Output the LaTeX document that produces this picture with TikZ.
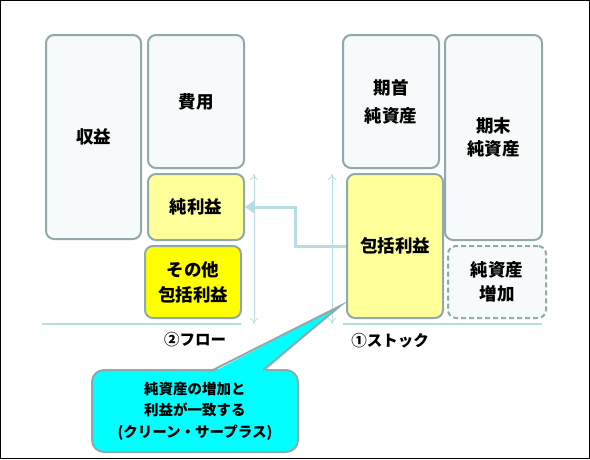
\documentclass[tikz,border=0pt]{standalone}
\usepackage{fontspec}
\newfontfamily\jp{Noto Sans CJK JP}
\usetikzlibrary{arrows.meta}
\definecolor{bd}{HTML}{8FA9AD}
\definecolor{bx}{HTML}{F7FAFB}
\definecolor{ly}{HTML}{FFFF99}
\definecolor{yy}{HTML}{FFFF00}
\definecolor{ln}{HTML}{B7DDE3}
\definecolor{cy}{HTML}{00FFFF}
\begin{document}
\begin{tikzpicture}[x=1pt,y=-1pt,
  box/.style={draw=bd, line width=2pt, rounded corners=8pt, fill=bx,
    font=\jp\bfseries\fontsize{17.5}{25}\selectfont, align=center, inner sep=0pt},
  lightbox/.style={box, fill=ly},
  brightbox/.style={box, fill=yy},
  dashbox/.style={box, dashed, dash pattern=on 5pt off 3pt},
  baseline/.style={draw=ln, line width=2pt},
  span/.style={draw=ln, line width=0.8pt, {To[length=6pt,width=8pt]}-{To[length=6pt,width=8pt]}},
  conn/.style={draw=ln, line width=3pt, -{Triangle[length=9pt,width=12pt]}},
  lab/.style={font=\jp\bfseries\fontsize{15.5}{18}\selectfont},
  callbox/.style={draw=bd, line width=2pt, rounded corners=12pt, fill=cy,
    font=\jp\bfseries\fontsize{14.5}{21.5}\selectfont, align=center, inner sep=0pt,
    minimum width=206pt, minimum height=82pt}
]
\useasboundingbox (0,0) rectangle (590,459);
\draw[black, line width=1pt] (0.5,0.5) rectangle (589.5,458.5);

% flow side
\node[box, minimum width=95pt, minimum height=204pt] (shueki) at (93.5,137) {収益};
\node[box, minimum width=96pt, minimum height=133pt] (hiyo) at (196,101.5) {費用};
\node[lightbox, minimum width=96pt, minimum height=66pt] (junrieki) at (196,207) {純利益};
\node[brightbox, minimum width=96pt, minimum height=72pt] (sonota) at (193,282) {その他\\包括利益};

% stock side
\node[box, minimum width=96pt, minimum height=133pt, font=\jp\bfseries\fontsize{17.5}{28}\selectfont] (kishu) at (391,101.5) {期首\\純資産};
\node[box, minimum width=97pt, minimum height=205pt, font=\jp\bfseries\fontsize{17.5}{23}\selectfont] (kimatsu) at (493.5,137.5) {期末\\純資産};
\node[lightbox, minimum width=96pt, minimum height=144pt] (hokatsu) at (395,246) {包括利益};
\node[dashbox, minimum width=98pt, minimum height=72pt, font=\jp\bfseries\fontsize{17.5}{24}\selectfont] (zoka) at (497,282) {純資産\\増加};

% base lines
\coordinate (fl1) at (42,324);
\coordinate (fl2) at (241,324);
\coordinate (st1) at (343,324);
\coordinate (st2) at (542,324);
\draw[baseline] (fl1) -- (fl2);
\draw[baseline] (st1) -- (st2);

% span arrows
\coordinate (sa1) at (254,174);
\coordinate (sa2) at (254,324);
\coordinate (sb1) at (332,174);
\coordinate (sb2) at (332,324);
\draw[span] (sa1) -- (sa2);
\draw[span] (sb1) -- (sb2);

% connector
\draw[conn] (hokatsu.west) -- (295,246) |- (junrieki.east);

% labels
\node[lab] (flow) at (195,340) {②フロー};
\node[lab] (stock) at (390,341) {①ストック};

% callout
\node[callbox] (call) at (195,411) {純資産の増加と\\利益が一致する\\(クリーン・サープラス)};
\coordinate (tip) at (340,306);
\fill[cy] (213,372) -- (tip) -- (263,372) -- cycle;
\draw[bd, line width=2pt, line join=miter] (213,370) -- (tip) -- (263,370);
\end{tikzpicture}
\end{document}
